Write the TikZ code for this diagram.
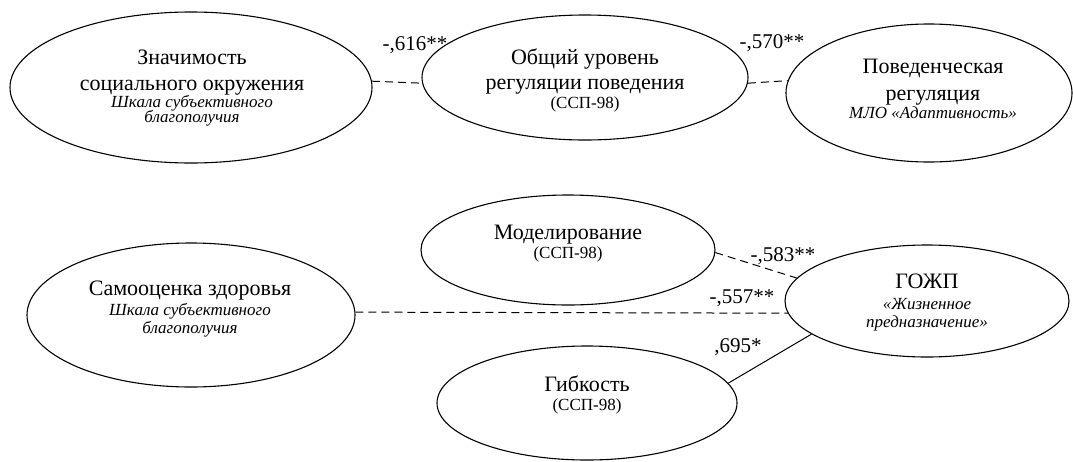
\documentclass[tikz,border=0pt]{standalone}
\usepackage{fontspec}
\setmainfont{Liberation Serif}
\usetikzlibrary{shapes.geometric}
\newcommand{\mainsz}{\fontsize{22}{25}\selectfont}
\newcommand{\subsz}{\fontsize{17}{18}\selectfont}
\begin{document}
\begin{tikzpicture}[x=1pt,y=-1pt,
  oval/.style={draw,ellipse,line width=1.1pt,inner sep=0pt},
  txt/.style={align=center,inner sep=0pt,font=\mainsz},
  lbl/.style={inner sep=0pt,font=\fontsize{21}{24}\selectfont},
  dline/.style={dashed,line width=1pt,dash pattern=on 8pt off 5pt},
  sline/.style={line width=1pt}]
\useasboundingbox (0,0) rectangle (1073,461);
% ellipses
\node[oval,minimum width=362pt,minimum height=151pt] (e1) at (191,87.5) {};
\node[oval,minimum width=326pt,minimum height=125pt] (e2) at (585,77.5) {};
\node[oval,minimum width=286pt,minimum height=138pt] (e3) at (929,93) {};
\node[oval,minimum width=328pt,minimum height=144pt] (e4) at (191,315) {};
\node[oval,minimum width=294pt,minimum height=110pt] (em) at (568,250) {};
\node[oval,minimum width=300pt,minimum height=114pt] (eg) at (587,403) {};
\node[oval,minimum width=284pt,minimum height=112pt] (e5) at (927,301) {};
% texts
\node[txt] (t1) at (192,88) {Значимость\\[1pt]социального окружения\\[-8pt]{\subsz\itshape Шкала субъективного}\\[-10pt]{\subsz\itshape благополучия}};
\node[txt] (t2) at (585,80) {Общий уровень\\[0pt]регуляции поведения\\[-6pt]{\subsz (ССП-98)}};
\node[txt] (t3) at (933,89) {Поведенческая\\[2pt]регуляция\\[-7pt]{\subsz\itshape МЛО «Адаптивность»}};
\node[txt] (t4) at (190,309) {Самооценка здоровья\\[-5pt]{\subsz\itshape Шкала субъективного}\\[-7pt]{\subsz\itshape благополучия}};
\node[txt] (tm) at (568,244) {Моделирование\\[-6pt]{\subsz (ССП-98)}};
\node[txt] (tg) at (587,395) {Гибкость\\[-6pt]{\subsz (ССП-98)}};
\node[txt] (t5) at (927,303) {ГОЖП\\[-4pt]{\subsz\itshape «Жизненное}\\[-7pt]{\subsz\itshape предназначение»}};
% connectors
\draw[dline] (e1.2) -- (e2.182);
\draw[dline] (e2.-2) -- (e3.175);
\draw[dline] (em.-1) -- (e5.170);
\draw[dline] (e4.1) -- (e5.185);
\draw[sline] (eg.8) -- (e5.196);
% labels
\node[lbl] (l1) at (415,45) {-,616**};
\node[lbl] (l2) at (772,43) {-,570**};
\node[lbl] (l3) at (783,256) {-,583**};
\node[lbl] (l4) at (742,298) {-,557**};
\node[lbl] (l5) at (738,347) {,695*};
\end{tikzpicture}
\end{document}
